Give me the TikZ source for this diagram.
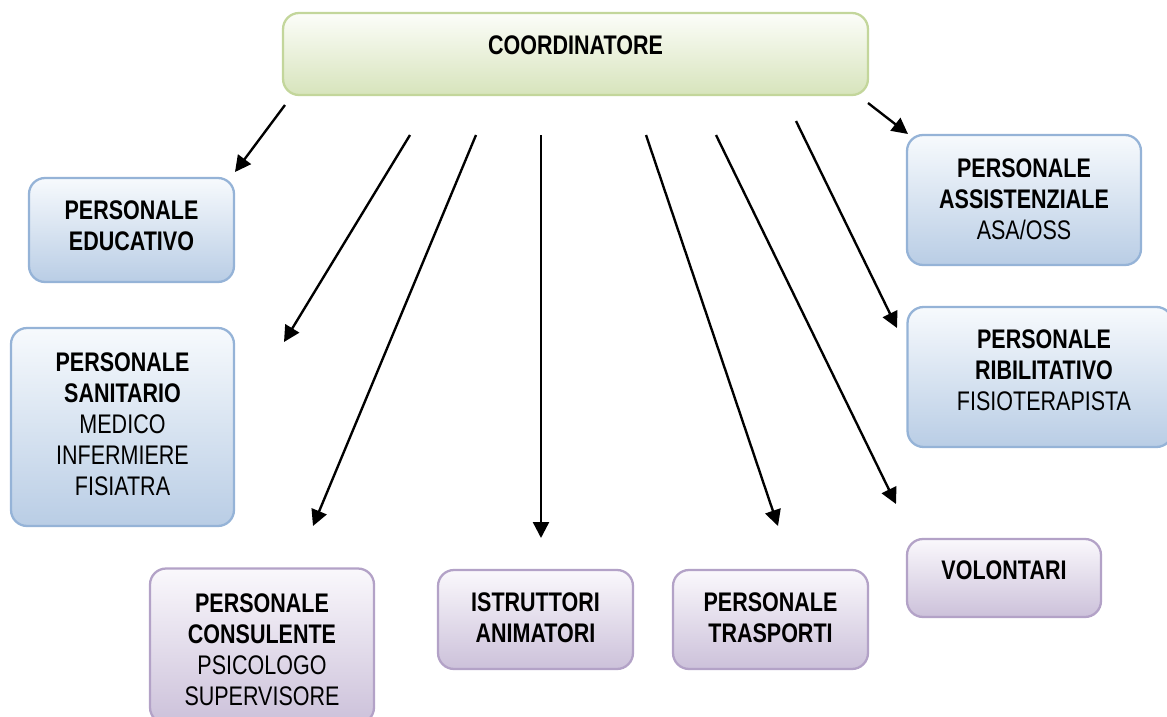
\documentclass[tikz,border=0pt]{standalone}
\usepackage{fontspec}
\setmainfont{Liberation Sans}[FakeStretch=0.8]
\usetikzlibrary{arrows.meta}
\begin{document}
\begin{tikzpicture}[x=0.02cm,y=-0.02cm,
  box/.style={draw, line width=1.3pt, rounded corners=0.32cm, inner sep=0pt},
  greenbox/.style={box, draw={rgb,255:red,195;green,214;blue,155}, top color={rgb,255:red,252;green,253;blue,249}, bottom color={rgb,255:red,215;green,228;blue,188}},
  bluebox/.style={box, draw={rgb,255:red,149;green,179;blue,215}, top color={rgb,255:red,247;green,250;blue,253}, bottom color={rgb,255:red,185;green,205;blue,229}},
  purplebox/.style={box, draw={rgb,255:red,179;green,162;blue,199}, top color={rgb,255:red,250;green,248;blue,252}, bottom color={rgb,255:red,204;green,193;blue,218}},
  lbl/.style={align=center, inner sep=0pt, font=\fontsize{15.3pt}{17.6pt}\selectfont},
  arr/.style={line width=1.35pt, -{Triangle[length=0.32cm,width=0.32cm]}}]
\useasboundingbox (0,0) rectangle (1167,717);
% boxes
\node[greenbox, minimum width=11.7cm, minimum height=1.64cm] (coord) at (575.5,54) {};
\node[bluebox, minimum width=4.1cm, minimum height=2.08cm] (edu) at (131.5,230) {};
\node[bluebox, minimum width=4.46cm, minimum height=3.96cm] (san) at (122.5,427) {};
\node[purplebox, minimum width=4.48cm, minimum height=3.1cm] (cons) at (262,646) {};
\node[purplebox, minimum width=3.9cm, minimum height=1.98cm] (istr) at (535.5,619.5) {};
\node[purplebox, minimum width=3.9cm, minimum height=1.98cm] (trasp) at (770.5,619.5) {};
\node[purplebox, minimum width=3.88cm, minimum height=1.56cm] (vol) at (1004,578) {};
\node[bluebox, minimum width=4.68cm, minimum height=2.6cm] (assi) at (1024,200) {};
\node[bluebox, minimum width=5.3cm, minimum height=2.8cm] (ribi) at (1040,377) {};
% labels
\node[lbl] (tcoord) at (575.5,45) {\textbf{COORDINATORE}};
\node[lbl] (tedu) at (131.5,225.5) {\textbf{PERSONALE}\\\textbf{EDUCATIVO}};
\node[lbl] (tsan) at (122.5,424.5) {\textbf{PERSONALE}\\\textbf{SANITARIO}\\MEDICO\\INFERMIERE\\FISIATRA};
\node[lbl] (tcons) at (262,650) {\textbf{PERSONALE}\\\textbf{CONSULENTE}\\PSICOLOGO\\SUPERVISORE};
\node[lbl] (tistr) at (535.5,617.5) {\textbf{ISTRUTTORI}\\\textbf{ANIMATORI}};
\node[lbl] (ttrasp) at (770.5,617.5) {\textbf{PERSONALE}\\\textbf{TRASPORTI}};
\node[lbl] (tvol) at (1004,570) {\textbf{VOLONTARI}};
\node[lbl] (tassi) at (1024,199) {\textbf{PERSONALE}\\\textbf{ASSISTENZIALE}\\ASA/OSS};
\node[lbl] (tribi) at (1044,370.5) {\textbf{PERSONALE}\\\textbf{RIBILITATIVO}\\FISIOTERAPISTA};
% arrow end points
\coordinate (s1) at (285,105); \coordinate (e1) at (235,172);
\coordinate (s2) at (410,135); \coordinate (e2) at (284,342);
\coordinate (s3) at (476,135); \coordinate (e3) at (313,526);
\coordinate (s4) at (541,135); \coordinate (e4) at (541,538);
\coordinate (s5) at (646,135); \coordinate (e5) at (778,526);
\coordinate (s6) at (716,135); \coordinate (e6) at (896,504);
\coordinate (s7) at (796,121); \coordinate (e7) at (897,328);
\coordinate (s8) at (868,103); \coordinate (e8) at (908,134);
\foreach \i in {1,...,8} \draw[arr] (s\i) -- (e\i);
\end{tikzpicture}
\end{document}
